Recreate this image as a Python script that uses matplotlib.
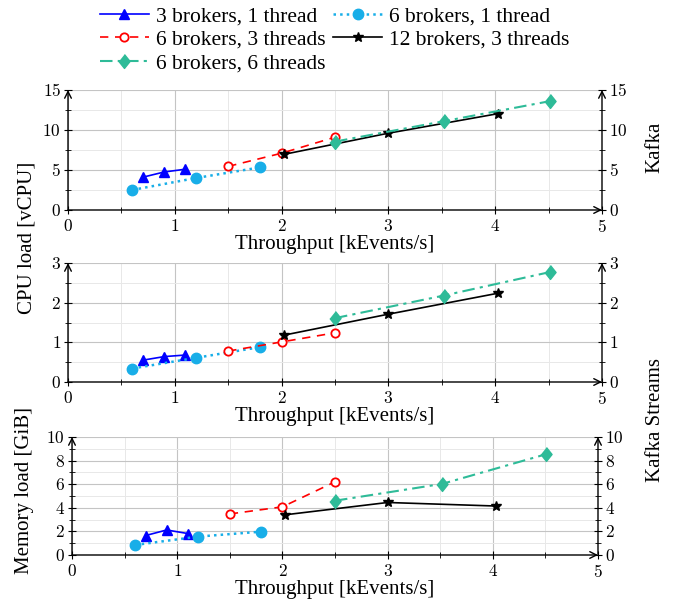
import numpy as np
import matplotlib
matplotlib.use('Agg')
import matplotlib.pyplot as plt
from matplotlib.ticker import MultipleLocator, FuncFormatter

plt.rcParams['font.family'] = ['Liberation Serif', 'DejaVu Serif']
plt.rcParams['mathtext.fontset'] = 'cm'
plt.rcParams['font.size'] = 15

# throughput [kEvents/s] per configuration
x_3b1t = [0.7, 0.9, 1.1]
x_6b1t = [0.6, 1.2, 1.8]
x_6b3t = [1.5, 2.0, 2.5]
x_12b3t = [2.02, 3.0, 4.03]
x_6b6t = [2.5, 3.52, 4.51]

# Kafka CPU load [vCPU]
kafka_cpu_3b1t = [4.1, 4.75, 5.1]
kafka_cpu_6b1t = [2.5, 4.0, 5.33]
kafka_cpu_6b3t = [5.45, 7.1, 9.1]
kafka_cpu_12b3t = [6.95, 9.6, 12.05]
kafka_cpu_6b6t = [8.55, 11.1, 13.6]

# Kafka Streams CPU load [vCPU]
streams_cpu_3b1t = [0.55, 0.64, 0.68]
streams_cpu_6b1t = [0.34, 0.61, 0.88]
streams_cpu_6b3t = [0.78, 1.01, 1.24]
streams_cpu_12b3t = [1.18, 1.71, 2.24]
streams_cpu_6b6t = [1.61, 2.18, 2.77]

# Kafka Streams memory load [GiB]
streams_mem_3b1t = [1.65, 2.12, 1.82]
streams_mem_6b1t = [0.85, 1.56, 1.98]
streams_mem_6b3t = [3.48, 4.08, 6.2]
streams_mem_12b3t = [3.4, 4.45, 4.15]
streams_mem_6b6t = [4.6, 6.03, 8.55]

labels = ['3 brokers, 1 thread', '6 brokers, 1 thread', '6 brokers, 3 threads',
          '12 brokers, 3 threads', '6 brokers, 6 threads']

diamond = [(0, 1), (0.8, 0), (0, -1), (-0.8, 0)]
styles = [
    dict(color='#0000ff', ls='-', marker='^', ms=6.5, lw=1.2),
    dict(color='#18aee8', ls=':', marker='o', ms=7.5, lw=1.8),
    dict(color='#ff0000', ls=(0, (5, 4)), marker='o', ms=6, lw=1.2,
         mfc='white', mew=1.3),
    dict(color='black', ls='-', marker='*', ms=7.5, lw=1.2),
    dict(color='#2ebb98', ls=(0, (6, 2.5, 1.5, 2.5)), marker=diamond, ms=10, lw=1.5),
]

xs = [x_3b1t, x_6b1t, x_6b3t, x_12b3t, x_6b6t]
panels = [
    ([kafka_cpu_3b1t, kafka_cpu_6b1t, kafka_cpu_6b3t, kafka_cpu_12b3t, kafka_cpu_6b6t], 15, 5, 2.5),
    ([streams_cpu_3b1t, streams_cpu_6b1t, streams_cpu_6b3t, streams_cpu_12b3t, streams_cpu_6b6t], 3, 1, 0.5),
    ([streams_mem_3b1t, streams_mem_6b1t, streams_mem_6b3t, streams_mem_12b3t, streams_mem_6b6t], 10, 2, 1),
]

W, H = 677, 604
boxes = [(68, 602, 90, 210), (68, 602, 263, 382), (72, 598, 437, 555)]

fig = plt.figure(figsize=(W / 100, H / 100), dpi=100)
fmt = FuncFormatter(lambda v, p: '$%g$' % v)
arrow = dict(arrowstyle='->', lw=1.0, color='black', shrinkA=0, shrinkB=0,
             mutation_scale=12)

handles = []
for (ys, ymax, major, minor), (l, r, t, b) in zip(panels, boxes):
    ax = fig.add_axes([l / W, (H - b) / H, (r - l) / W, (b - t) / H])
    for x, y, st in zip(xs, ys, styles):
        h, = ax.plot(x, y, clip_on=False, zorder=5, **st)
        if len(handles) < 5:
            handles.append(h)
    ax.set_xlim(0, 5)
    ax.set_ylim(0, ymax)
    ax.xaxis.set_major_locator(MultipleLocator(1))
    ax.xaxis.set_minor_locator(MultipleLocator(0.5))
    ax.yaxis.set_major_locator(MultipleLocator(major))
    ax.yaxis.set_minor_locator(MultipleLocator(minor))
    ax.xaxis.set_major_formatter(fmt)
    ax.yaxis.set_major_formatter(fmt)
    ax.grid(True, which='major', color='#c4c4c4', lw=0.8)
    ax.grid(True, which='minor', color='#e8e8e8', lw=0.7)
    ax.set_axisbelow(True)
    for s in ax.spines.values():
        s.set_visible(False)
    ax.tick_params(which='major', direction='inout', length=6, width=0.8,
                   labelsize=12.5, pad=2)
    ax.tick_params(axis='x', which='major', pad=3.5)
    ax.tick_params(which='minor', direction='inout', length=4, width=0.6)
    ax.set_xlabel('Throughput [kEvents/s]', labelpad=-0.5)
    ax.annotate('', xy=(0, 1), xytext=(0, 0), xycoords='axes fraction', arrowprops=arrow)
    ax.annotate('', xy=(1, 0), xytext=(0, 0), xycoords='axes fraction', arrowprops=arrow)
    ax.annotate('', xy=(1, 1), xytext=(1, 0), xycoords='axes fraction', arrowprops=arrow)

    ax2 = ax.twinx()
    ax2.set_ylim(0, ymax)
    ax2.yaxis.set_major_locator(MultipleLocator(major))
    ax2.yaxis.set_minor_locator(MultipleLocator(minor))
    ax2.yaxis.set_major_formatter(fmt)
    for s in ax2.spines.values():
        s.set_visible(False)
    ax2.tick_params(which='major', direction='inout', length=6, width=0.8,
                    labelsize=12.5, pad=2)
    ax2.tick_params(which='minor', direction='inout', length=4, width=0.6)

fig.text(27 / W, (H - 238) / H, 'CPU load [vCPU]', rotation=90, ha='center', va='center')
fig.text(25 / W, (H - 491) / H, 'Memory load [GiB]', rotation=90, ha='center', va='center')
fig.text(655 / W, (H - 147) / H, 'Kafka', rotation=90, ha='center', va='center')
fig.text(655 / W, (H - 420) / H, 'Kafka Streams', rotation=90, ha='center', va='center')

order = [0, 2, 4, 1, 3]
fig.legend([handles[i] for i in order], [labels[i] for i in order],
           loc='upper center', bbox_to_anchor=(0.494, 1.01), ncol=2, frameon=False,
           fontsize=15.5, handlelength=2.3, handletextpad=0.3, columnspacing=0.35,
           labelspacing=0.14, borderaxespad=0.2)

fig.savefig('out.png', dpi=100)
